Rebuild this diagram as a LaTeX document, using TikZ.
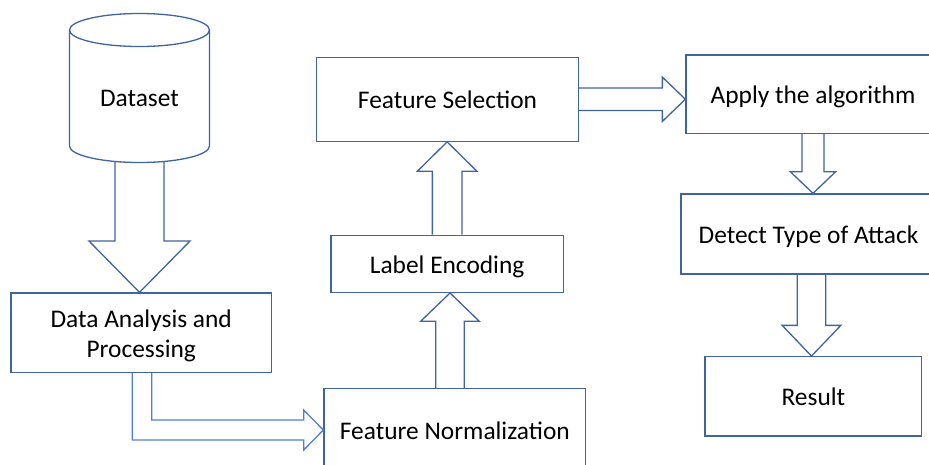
\documentclass[tikz,border=0pt]{standalone}
\usepackage{fontspec}
\setmainfont{Carlito}
\usetikzlibrary{calc}
\definecolor{bord}{HTML}{3F64A0}
\definecolor{arrl}{HTML}{4F7FD2}
\tikzset{
  txt/.style={font=\fontsize{25.4}{30.4}\selectfont},
  one/.style={text height=22pt, text depth=3.2pt},
  box/.style={txt, draw=bord, line width=1.3pt, inner sep=0pt, align=center},
  blk/.style={draw=bord, line width=1.3pt, line join=miter},
  blklight/.style={draw=arrl, line width=1.3pt, line join=miter}
}
% block arrows: source, target, shaft half width, head half width, head length
\newcommand{\blkdown}[5]{\draw[blk] let \p1=(#1), \p2=(#2) in
  (\x1-#3pt,\y1) -- (\x1-#3pt,\y2+#5pt) -- (\x2-#4pt,\y2+#5pt) -- (\x2,\y2)
  -- (\x2+#4pt,\y2+#5pt) -- (\x1+#3pt,\y2+#5pt) -- (\x1+#3pt,\y1);}
\newcommand{\blkup}[5]{\draw[blk] let \p1=(#1), \p2=(#2) in
  (\x1-#3pt,\y1) -- (\x1-#3pt,\y2-#5pt) -- (\x2-#4pt,\y2-#5pt) -- (\x2,\y2)
  -- (\x2+#4pt,\y2-#5pt) -- (\x1+#3pt,\y2-#5pt) -- (\x1+#3pt,\y1);}
\newcommand{\blkright}[5]{\draw[blk] let \p1=(#1), \p2=(#2) in
  (\x1,\y1+#3pt) -- (\x2-#5pt,\y1+#3pt) -- (\x2-#5pt,\y2+#4pt) -- (\x2,\y2)
  -- (\x2-#5pt,\y2-#4pt) -- (\x2-#5pt,\y1-#3pt) -- (\x1,\y1-#3pt);}
\begin{document}
\begin{tikzpicture}[x=1pt,y=-1pt]
\useasboundingbox (0,0) rectangle (929,464);
\clip (0,0) rectangle (929,464);

% cylinder
\draw[blk] (139.5,30) ellipse [x radius=70, y radius=16.5];
\draw[blk] (69.5,30) -- (69.5,146) arc [start angle=180, end angle=0, x radius=70, y radius=16.5] -- (209.5,30);
\node[txt, one, inner sep=0pt] (ds) at (139.5,97) {Dataset};
\coordinate (dsb) at (139.5,161.5);

% boxes
\node[box, minimum width=260.5, minimum height=79.5] (dap) at (141.25,332.75)
  {\raisebox{-3.5pt}[\height][\depth]{\begin{tabular}{@{}c@{}}Data Analysis and\\Processing\end{tabular}}};
\node[box, one, minimum width=261.7, minimum height=83] (fn) at (454.85,430) {Feature Normalization};
\node[box, one, minimum width=232.3, minimum height=57] (le) at (447.15,263.8) {Label Encoding};
\node[box, one, minimum width=261.6, minimum height=83.9] (fs) at (447.5,99.25) {Feature Selection};
\node[box, one, minimum width=254, minimum height=78.3] (ap) at (813,94.15) {Apply the algorithm};
\node[box, one, minimum width=255, minimum height=80] (dt) at (808.5,234) {Detect Type of Attack};
\node[box, one, minimum width=216.7, minimum height=79.3] (rs) at (813.35,396.35) {Result};

% connector anchors
\coordinate (a2s) at ($(dap.south)+(0.75,0)$);
\coordinate (a3s) at ($(fn.north)+(-4.85,0)$);
\coordinate (a7s) at ($(dt.south)+(3,0)$);

% block arrows
\blkdown{dsb}{dsb |- dap.north}{24.5}{50.5}{51.3}
\draw[blklight] let \p1=(a2s), \p2=(fn.west) in
  (\x1-9.7pt,\y1) -- (\x1-9.7pt,\y2-10pt) -- (\x2-19.7pt,\y2-10pt) -- (\x2-19.7pt,\y2-20pt)
  -- (\x2,\y2) -- (\x2-19.7pt,\y2+20pt) -- (\x2-19.7pt,\y2+10pt) -- (\x1+9.7pt,\y2+10pt)
  -- (\x1+9.7pt,\y1);
\blkup{a3s}{a3s |- le.south}{14.3}{29.3}{28.3}
\blkup{le.north}{le.north |- fs.south}{14.8}{29.7}{29.3}
\blkright{fs.east}{fs.east -| ap.west}{11.2}{22.2}{23}
\blkdown{ap.south}{ap.south |- dt.north}{11}{22.7}{21.7}
\blkdown{a7s}{a7s |- rs.north}{14.2}{29.4}{30.7}
\end{tikzpicture}
\end{document}
